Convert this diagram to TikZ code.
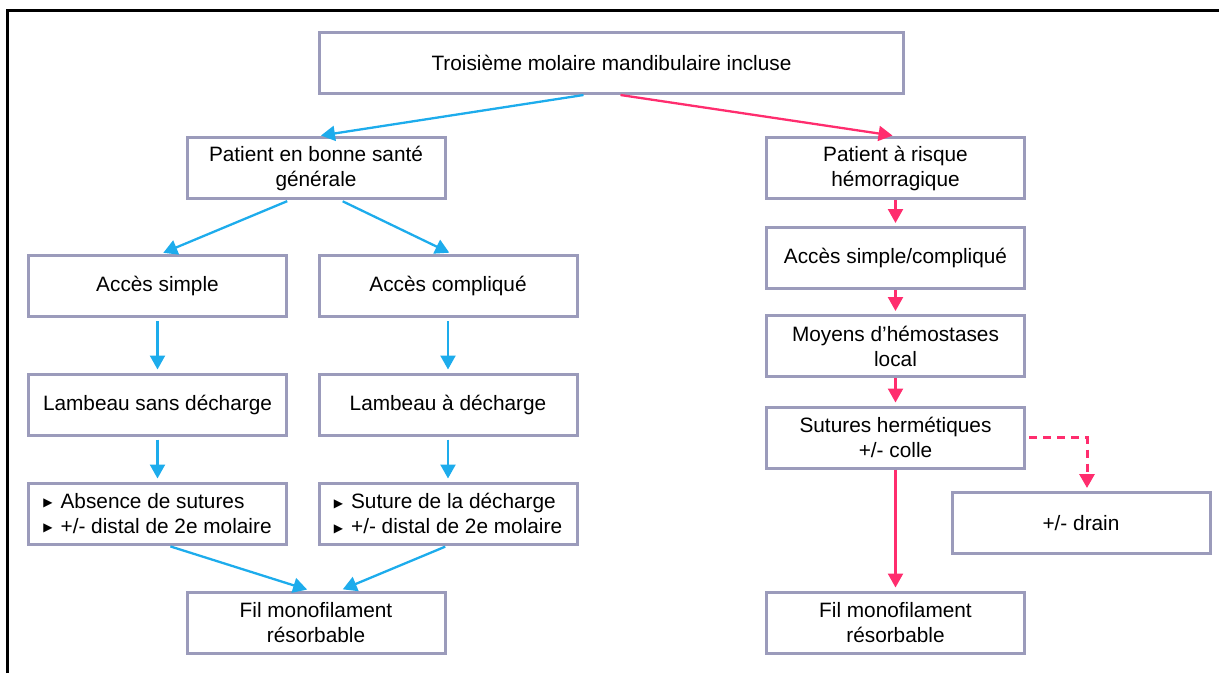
\documentclass[tikz,border=0pt]{standalone}
\usepackage{fontspec}
\setmainfont{Liberation Sans}
\newfontfamily\symfont{DejaVu Sans}
\usetikzlibrary{arrows.meta,positioning}

\definecolor{boxgray}{RGB}{155,155,187}
\definecolor{arrblue}{RGB}{29,172,236}
\definecolor{arrpink}{RGB}{255,45,110}

\newcommand{\tri}{{\symfont\fontsize{12}{12}\selectfont\raisebox{1.5pt}{▶}}\hspace{8pt}}

\begin{document}
\begin{tikzpicture}[
    x=1pt, y=-1pt,
    box/.style={rectangle, draw=boxgray, line width=3pt, minimum width=258pt, minimum height=61pt,
        align=center, font=\fontsize{20.8}{25}\selectfont, inner sep=2pt},
    bigbox/.style={box, minimum width=584pt},
    bluearr/.style={draw=arrblue, line width=2.3pt, -{Triangle[length=14pt,width=15pt]}, arrblue,
        shorten <=3pt, shorten >=3pt},
    pinkarr/.style={draw=arrpink, line width=2.3pt, -{Triangle[length=14pt,width=15pt]}, arrpink,
        shorten >=3pt},
    pinkdash/.style={pinkarr, line width=3pt, dash pattern=on 8pt off 6pt, shorten <=3pt}
]
\useasboundingbox (0,0) rectangle (1219,673);
\draw[line width=3pt] (7,673) -- (7,10) -- (1219,10);

\node[bigbox] (top) at (611.5,63) {Troisième molaire mandibulaire incluse};

% branche gauche
\node[box] (sante) at (316,168) {Patient en bonne santé\\générale};
\node[box] (simple) at (157.5,286) {Accès simple};
\node[box] (compl) at (448,286) {Accès compliqué};
\node[box] (lsans) at (157.5,404.5) {Lambeau sans décharge};
\node[box] (lavec) at (448,404.5) {Lambeau à décharge};
\node[box, align=left] (absence) at (157.5,513.5) {\tri Absence de sutures\\\tri +/- distal de 2e molaire};
\node[box, align=left] (suture) at (448,513.5) {\tri Suture de la décharge\\\tri +/- distal de 2e molaire};
\node[box] (filg) at (316,622.5) {Fil monofilament\\résorbable};

% branche droite
\node[box] (risque) at (895.5,168) {Patient à risque\\hémorragique};
\node[box] (acces) at (895.5,258) {Accès simple/compliqué};
\node[box] (moyens) at (895.5,346) {Moyens d’hémostases\\local};
\node[box] (herm) at (895.5,437.5) {Sutures hermétiques\\+/- colle};
\node[box] (drain) at (1081,523) {+/- drain};
\node[box] (fild) at (895.5,622.5) {Fil monofilament\\résorbable};

\draw[bluearr, shorten <=0pt] ([xshift=-28pt]top.south) -- ([xshift=2pt]sante.north);
\draw[pinkarr] ([xshift=9pt]top.south) -- (risque.north);

\draw[bluearr] ([xshift=-26pt]sante.south) -- ([xshift=3pt]simple.north);
\draw[bluearr] ([xshift=24pt]sante.south) -- ([xshift=4pt]compl.north);
\draw[bluearr] (simple) -- (lsans);
\draw[bluearr] (compl) -- (lavec);
\draw[bluearr] (lsans) -- (absence);
\draw[bluearr] (lavec) -- (suture);
\draw[bluearr] ([xshift=10pt]absence.south) -- ([xshift=-6pt]filg.north);
\draw[bluearr] (suture.south) -- ([xshift=24pt]filg.north);

\draw[pinkarr] (risque) -- (acces);
\draw[pinkarr] (acces) -- (moyens);
\draw[pinkarr] (moyens) -- (herm);
\draw[pinkarr] (herm) -- (fild);
\draw[pinkdash] (herm.east) -| ([xshift=6pt]drain.north);
\end{tikzpicture}
\end{document}
